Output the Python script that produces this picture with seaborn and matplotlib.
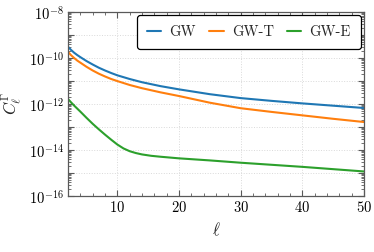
import numpy as np
import pandas as pd
import matplotlib
matplotlib.use("Agg")
import matplotlib.pyplot as plt
import matplotlib.ticker as mticker
import seaborn as sns

# values (log10 of C_ell)
ell = [2, 2.5, 3, 3.5, 4, 5, 6, 7, 8, 9, 10, 12, 14, 17, 20, 25, 30, 35, 40, 45, 50]
log_gw = [-9.51, -9.65, -9.77, -9.87, -9.96, -10.13, -10.28, -10.42, -10.54, -10.65, -10.75,
          -10.91, -11.05, -11.22, -11.36, -11.57, -11.74, -11.86, -11.97, -12.07, -12.17]
log_gwt = [-9.73, -9.88, -10.0, -10.11, -10.20, -10.38, -10.54, -10.68, -10.80, -10.91, -11.0,
           -11.17, -11.31, -11.49, -11.65, -11.94, -12.18, -12.34, -12.49, -12.64, -12.78]

ell_gwe = [2, 2.5, 3, 3.5, 4, 5, 6, 7, 8, 9, 10, 11, 12, 13, 14, 15.5, 17, 20, 25, 30, 35, 40, 45, 50]
log_gwe = [-11.78, -11.93, -12.07, -12.20, -12.33, -12.60, -12.86, -13.10, -13.33, -13.55, -13.76,
           -13.93, -14.05, -14.13, -14.19, -14.25, -14.29, -14.36, -14.45, -14.55, -14.64, -14.73,
           -14.83, -14.93]

labels = ["GW", "GW-T", "GW-E"]

frames = []
for lab, x, lv in zip(labels, [ell, ell, ell_gwe], [log_gw, log_gwt, log_gwe]):
    frames.append(pd.DataFrame({"ell": x, "cl": 10.0 ** np.array(lv), "series": lab}))
df = pd.concat(frames, ignore_index=True)

sns.set_theme(style="ticks")
plt.rcParams["font.family"] = "serif"
plt.rcParams["font.serif"] = ["cmr10", "DejaVu Serif"]
plt.rcParams["mathtext.fontset"] = "cm"
plt.rcParams["axes.formatter.use_mathtext"] = True
plt.rcParams["axes.unicode_minus"] = False

fig = plt.figure(figsize=(3.74, 2.52), dpi=100)
ax = fig.add_axes([0.182, 0.222, 0.791, 0.730])

sns.lineplot(data=df, x="ell", y="cl", hue="series", hue_order=labels,
             palette=["#1f77b4", "#ff7f0e", "#2ca02c"], linewidth=1.5, ax=ax)

ax.set_yscale("log")
ax.set_xlim(2, 50)
ax.set_ylim(1e-16, 1e-8)

ax.xaxis.set_major_locator(mticker.FixedLocator([10, 20, 30, 40, 50]))
ax.xaxis.set_minor_locator(mticker.MultipleLocator(2))
ax.yaxis.set_major_locator(mticker.LogLocator(base=10, numticks=20))
ax.yaxis.set_minor_locator(mticker.LogLocator(base=10, subs=np.arange(2, 10), numticks=20))
ax.yaxis.set_minor_formatter(mticker.NullFormatter())


def yfmt(v, pos):
    e = int(round(np.log10(v)))
    if e % 2:
        return ""
    return r"$10^{%d}$" % e


ax.yaxis.set_major_formatter(mticker.FuncFormatter(yfmt))

ax.tick_params(which="both", direction="in", top=True, right=True, colors="0.35",
               labelcolor="black", labelsize=10.5)
ax.tick_params(which="major", length=4, width=0.8, pad=3)
ax.tick_params(which="minor", length=2, width=0.6)
for s in ax.spines.values():
    s.set_color("0.35")
    s.set_linewidth(0.9)

ax.grid(True, which="major", linestyle=":", color="0.85", linewidth=0.7)

ax.set_xlabel(r"$\ell$", fontsize=12)
ax.set_ylabel(r"$C_\ell^\Gamma$", fontsize=12)
ax.yaxis.set_label_coords(-0.15, 0.5)

leg = ax.legend(loc="upper right", ncol=3, fontsize=10.5, frameon=True, fancybox=True,
                edgecolor="black", framealpha=1, handlelength=1.0, columnspacing=0.9,
                borderpad=0.7, handletextpad=0.55, borderaxespad=0.2)
leg.get_frame().set_linewidth(0.9)

fig.savefig("out.png", dpi=100)
